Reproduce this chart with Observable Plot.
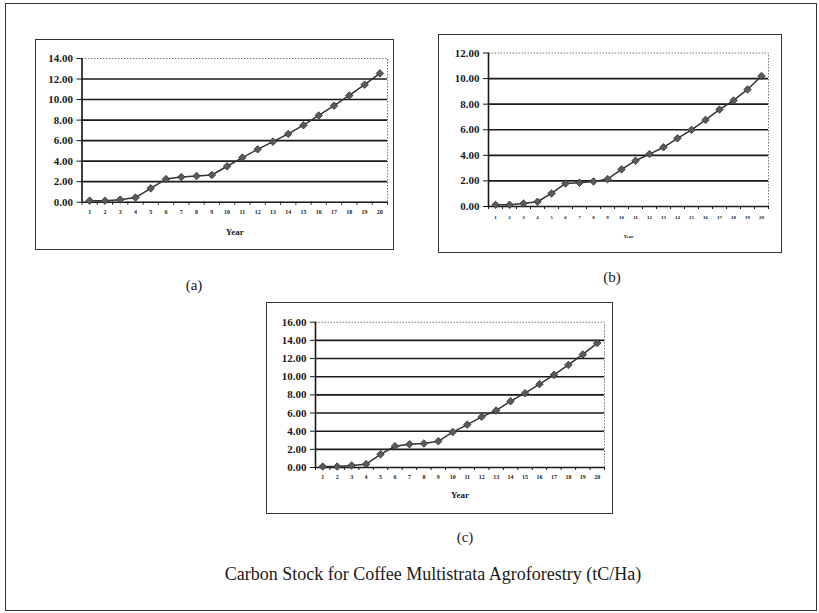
<!DOCTYPE html>
<html><head><meta charset="utf-8">
<script src="https://cdn.jsdelivr.net/npm/d3@7"></script>
<script src="https://cdn.jsdelivr.net/npm/@observablehq/plot@0.6"></script>
<style>
html,body{margin:0;padding:0;background:#fff;}
#page{position:relative;width:819px;height:613px;overflow:hidden;background:#fff;font-family:"Liberation Serif","DejaVu Serif",serif;color:#1a1a1a;}
.outer{position:absolute;left:5px;top:3px;width:812px;height:608px;box-sizing:border-box;border:1.5px solid #333;}
.box{position:absolute;box-sizing:border-box;border:1.5px solid #333;pointer-events:none;}
.panel{position:absolute;}
.lab{position:absolute;transform:translate(-50%,-50%);white-space:nowrap;line-height:1;}
</style></head><body>
<div id="page">
  <div class="outer"></div>
  <div id="pa" class="panel" style="left:35px;top:39px;"></div>
  <div class="box" style="left:35px;top:39px;width:359px;height:211px;"></div>
  <div id="pb" class="panel" style="left:438px;top:34px;"></div>
  <div class="box" style="left:438px;top:34px;width:344px;height:219px;"></div>
  <div id="pc" class="panel" style="left:266px;top:302px;"></div>
  <div class="box" style="left:266px;top:302px;width:347px;height:212px;"></div>
  <div class="lab" style="left:194px;top:285px;font-size:15px;">(a)</div>
  <div class="lab" style="left:612px;top:277px;font-size:15px;">(b)</div>
  <div class="lab" style="left:465px;top:537px;font-size:15px;">(c)</div>
  <div class="lab" style="left:433px;top:574px;font-size:18px;">Carbon Stock for Coffee Multistrata Agroforestry (tC/Ha)</div>
</div>
<script>
// Data
const years = [1,2,3,4,5,6,7,8,9,10,11,12,13,14,15,16,17,18,19,20];
const carbonA = [0.15,0.15,0.25,0.45,1.35,2.25,2.45,2.55,2.65,3.5,4.35,5.15,5.9,6.65,7.5,8.45,9.4,10.4,11.45,12.55];
const carbonB = [0.13,0.13,0.24,0.37,1.02,1.8,1.86,1.96,2.14,2.9,3.58,4.1,4.63,5.33,5.99,6.77,7.58,8.29,9.15,10.2];
const carbonC = [0.1,0.1,0.22,0.37,1.45,2.34,2.56,2.64,2.9,3.9,4.72,5.58,6.28,7.3,8.18,9.18,10.2,11.3,12.45,13.7];
const yTicksA = [0,2,4,6,8,10,12,14];
const yTicksB = [0,2,4,6,8,10,12];
const yTicksC = [0,2,4,6,8,10,12,14,16];
const xLabel = "Year";

const fmt = d3.format(".2f");
const xDomain = [years[0] - 0.5, years[years.length - 1] + 0.5];
const bounds = [xDomain[0], ...years.map(y => y + 0.5)];

function panel(values, yTicks, o) {
  const data = years.map((y, i) => ({year: y, value: values[i]}));
  const yMax = yTicks[yTicks.length - 1];
  const grid = yTicks.filter(v => v > 0 && v < yMax);
  return Plot.plot({
    width: o.w, height: o.h,
    marginLeft: o.ml, marginRight: o.mr, marginTop: o.mt, marginBottom: o.mb,
    style: {fontFamily: "Liberation Serif, DejaVu Serif, serif", fontSize: "11px", background: "transparent", color: "#1a1a1a", overflow: "visible"},
    x: {type: "linear", domain: xDomain, axis: null},
    y: {domain: [0, yMax], axis: null},
    marks: [
      Plot.frame({stroke: "#777", strokeDasharray: "1.5,1.5", strokeWidth: 1}),
      Plot.ruleY(grid, {stroke: "#1a1a1a", strokeWidth: 1.6}),
      Plot.ruleY([yTicks[0]], {stroke: "#1a1a1a", strokeWidth: 1.6}),
      Plot.ruleX([xDomain[0]], {stroke: "#1a1a1a", strokeWidth: 1.6}),
      Plot.axisY({ticks: yTicks, tickFormat: fmt, tickSize: 5, tickPadding: o.tp, fontSize: 11, fontWeight: "600", stroke: "#1a1a1a", label: null}),
      Plot.axisX({ticks: bounds, tickFormat: () => "", tickSize: 3, stroke: "#1a1a1a", label: null}),
      Plot.axisX({ticks: years, tickSize: 0, tickPadding: o.xp, fontSize: o.xf, fontWeight: "bold", tickFormat: d => String(d), label: null}),
      Plot.line(data, {x: "year", y: "value", stroke: "#333", strokeWidth: 1.5}),
      Plot.dot(data, {x: "year", y: "value", symbol: "diamond2", r: 3.4, fill: "#5a5a5a", stroke: "#333", strokeWidth: 0.8}),
      Plot.text([xLabel], {frameAnchor: "bottom", lineAnchor: "middle", dy: o.ly, fontSize: o.lf, fontWeight: "bold"})
    ]
  });
}

document.getElementById("pa").append(panel(carbonA, yTicksA, {w: 359, h: 211, ml: 46.5, mr: 7, mt: 19, mb: 48.3, tp: 4, xp: 8, xf: 6, ly: 30, lf: 9}));
document.getElementById("pb").append(panel(carbonB, yTicksB, {w: 344, h: 219, ml: 50, mr: 14, mt: 18.5, mb: 47, tp: 4, xp: 9, xf: 5, ly: 30, lf: 5}));
document.getElementById("pc").append(panel(carbonC, yTicksC, {w: 347, h: 212, ml: 49, mr: 9, mt: 19.7, mb: 47, tp: 4, xp: 7, xf: 6, ly: 28, lf: 9}));
</script>
</body></html>
